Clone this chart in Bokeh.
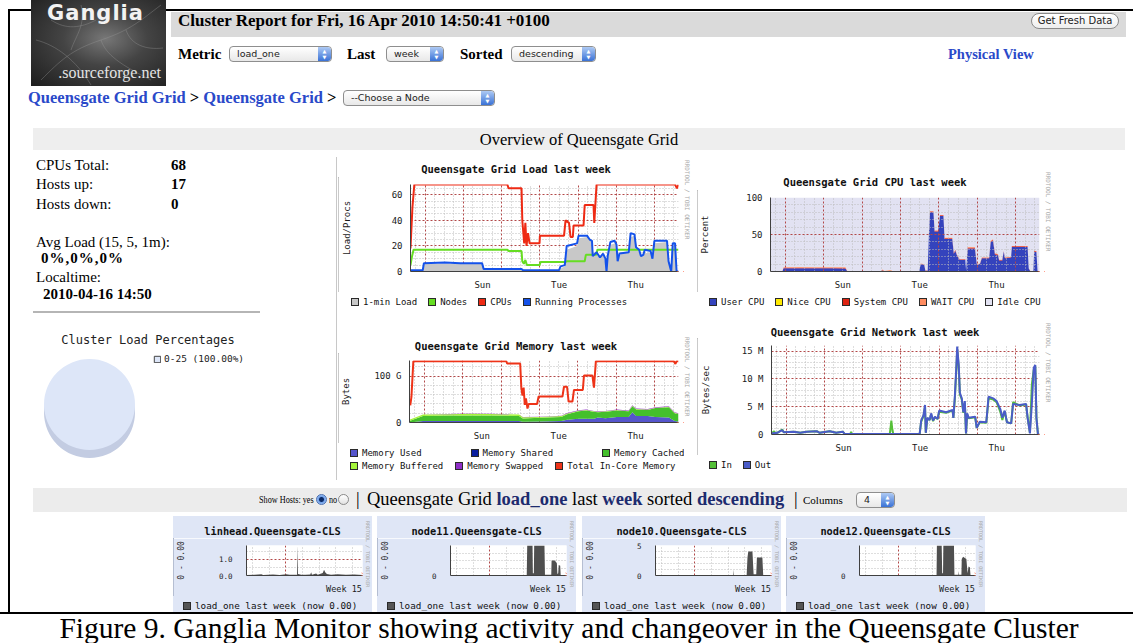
import math
from bokeh.plotting import figure
from bokeh.layouts import row, column
from bokeh.models import (Range1d, FixedTicker, Legend, LegendItem, Div, Spacer, Label,
                          Arrow, OpenHead, ColumnDataSource)
from bokeh.embed import file_html
from bokeh.resources import INLINE

# ===================== DATA =====================
# Time: days since the start of the "last week" window (Fri 9 Apr 2010 14:50)
WINDOW_START = -0.382          # window start in days relative to Sat 10 Apr 00:00
DAY_NAMES = {1.5: "Sun", 3.5: "Tue", 5.5: "Thu"}   # label at noon of the day
WEEK_LABEL = {5.5: "Week 15"}

cluster_stats = [("CPUs Total:", "68"), ("Hosts up:", "17"), ("Hosts down:", "0")]
avg_load = "0%,0%,0%"
localtime = "2010-04-16 14:50"

pie_bins = ["0-25"]
pie_pct = [100.0]

# Load chart
load_t = [0.00, 0.33, 0.36, 1.88, 1.92, 2.90, 2.94, 3.88, 3.95, 4.03, 4.08, 4.35, 4.40, 4.62, 4.72, 4.77,
          4.95, 5.05, 5.10, 5.14, 5.22, 5.36, 5.42, 5.50, 5.70, 5.76, 5.86, 5.92, 6.02, 6.10, 6.28, 6.33,
          6.38, 6.70, 6.75, 6.81, 6.86, 6.92, 6.96, 7.00]
load_one = [0.5, 0.5, 6.0, 6.0, 1.5, 1.5, 0.5, 0.5, 3.0, 4.0, 17, 20, 26, 27, 24, 13,
            12, 13, 4, 10, 21, 22, 9, 14, 15, 27, 28, 18, 12, 14, 15, 10,
            22, 23, 8, 1, 20, 20, 1, 0]
nodes_t = [0.00, 0.04, 0.08, 2.53, 2.56, 2.90, 2.92, 2.96, 3.00, 3.04, 3.37, 3.40, 4.05, 4.08, 4.55,
           4.58, 4.86, 4.88, 7.00]
nodes = [5, 12, 17, 17, 16, 16, 8, 6, 9, 5, 5, 7.5, 7.5, 8, 8, 13, 13, 17, 17]
cpus_t = [0.00, 0.05, 0.10, 2.53, 2.56, 2.90, 2.92, 2.97, 3.00, 3.03, 3.07, 3.11, 3.37, 3.38, 4.01,
          4.05, 4.14, 4.18, 4.24, 4.26, 4.52, 4.55, 4.78, 4.80, 4.86, 6.91, 6.96, 7.00]
cpus = [18, 50, 68, 68, 65, 65, 40, 22, 38, 20, 30, 22, 22, 28, 28,
        40, 38, 27, 27, 36, 36, 52, 52, 38, 68, 68, 65, 68]
procs_t = [0.00, 0.32, 0.35, 0.90, 1.30, 1.87, 1.91, 2.90, 2.94, 3.88, 3.92, 4.03, 4.08, 4.35, 4.39,
           4.61, 4.68, 4.74, 4.76, 4.86, 4.95, 5.03, 5.09, 5.12, 5.15, 5.22, 5.33, 5.38, 5.41, 5.46,
           5.70, 5.75, 5.85, 5.89, 5.97, 6.02, 6.08, 6.12, 6.27, 6.32, 6.37, 6.70, 6.74, 6.81, 6.85,
           6.91, 6.95, 7.00]
procs = [1, 1, 6.5, 7, 6.5, 6.5, 2, 2, 1, 1, 4, 5, 20, 22, 28,
         28, 25, 24, 12, 15, 11, 14, 10, 0, 12, 23, 24, 21, 8, 14,
         15, 30, 29, 19, 17, 12, 13, 17, 16, 10, 24, 24, 8, 0, 22,
         22, 0, 0]

# CPU chart (percent)
cpu_t = [0.00, 0.31, 0.34, 0.75, 1.18, 1.61, 1.95, 2.00, 2.87, 2.91, 2.97, 3.13, 3.18, 3.87, 3.91,
         4.00, 4.03, 4.09, 4.12, 4.15, 4.24, 4.27, 4.36, 4.41, 4.50, 4.53, 4.73, 4.77, 4.81, 4.85,
         4.92, 5.07, 5.09, 5.13, 5.32, 5.37, 5.45, 5.50, 5.69, 5.73, 5.79, 5.84, 5.92, 5.95, 6.03,
         6.07, 6.10, 6.26, 6.28, 6.69, 6.72, 6.76, 6.84, 6.86, 6.92, 6.95, 7.00]
cpu_user = [0.3, 0.3, 4.5, 4.5, 4.3, 4.4, 4.2, 0.3, 0.3, 1.5, 0.3, 0.3, 0.2, 0.2, 10,
            9, 1, 1, 48, 80, 80, 54, 54, 75, 75, 44, 44, 24, 28, 22,
            16, 16, 1, 31, 31, 9, 10, 18, 18, 40, 42, 23, 22, 15, 15,
            27, 18, 19, 33, 33, 4, 0.5, 0.5, 27, 26, 0.3, 0.3]
cpu_system = [0.2, 0.2, 0.6, 0.6, 0.6, 0.6, 0.6, 0.2, 0.2, 0.5, 0.2, 0.2, 0.1, 0.1, 0.5,
              0.5, 0.3, 0.3, 1, 1, 1, 1, 1, 1, 1, 1, 1, 1, 1, 0.5,
              0.5, 0.5, 0.3, 1, 1, 0.5, 0.5, 0.7, 0.7, 1, 1, 1, 1, 0.5, 0.5,
              0.5, 0.5, 0.5, 1, 1, 0.3, 0.1, 0.1, 1, 1, 0.1, 0.1]
cpu_wait = [0.2, 0.2, 0.8, 0.9, 0.9, 0.8, 0.8, 0.2, 0.2, 0.8, 0.2, 1.5, 0.1, 0.1, 0.3,
            0.3, 0.2, 0.2, 0.5, 0.5, 0.5, 0.5, 0.5, 0.5, 0.5, 0.5, 0.5, 0.5, 0.5, 0.3,
            0.3, 0.3, 0.2, 1, 1, 0.3, 0.3, 0.3, 0.3, 0.5, 0.5, 0.5, 0.5, 0.3, 0.3,
            0.3, 0.3, 0.3, 0.5, 0.5, 0.2, 0.1, 0.1, 0.5, 0.5, 0.1, 0.1]

# Memory chart (GB)
mem_total_t = [0.02, 0.05, 0.10, 2.52, 2.54, 2.88, 2.91, 2.94, 2.97, 3.00, 3.03, 3.07, 3.10, 3.32, 3.36,
               3.98, 4.02, 4.10, 4.14, 4.24, 4.28, 4.51, 4.54, 4.76, 4.80, 4.85, 6.88, 6.92, 6.95, 7.00]
mem_total = [37, 55, 132, 132, 127, 127, 75, 58, 75, 38, 52, 30, 40, 40, 56,
             56, 77, 77, 45, 45, 70, 70, 101, 101, 75, 132, 132, 126, 132, 132]
mem_t = [0.00, 0.35, 1.00, 1.60, 2.10, 2.85, 2.95, 3.40, 3.95, 4.10, 4.40, 4.60, 4.80, 4.90, 5.10,
         5.40, 5.70, 5.80, 5.90, 6.20, 6.40, 6.75, 6.90, 7.00]
mem_used = [0, 3, 3, 3, 3, 3, 1.5, 2, 3, 6, 8, 8, 8, 11, 9, 12, 12, 22, 14, 14, 12, 11, 3, 2]
mem_cached = [3, 11, 12, 12, 12, 11, 7, 8, 9, 12, 16, 18, 15, 11, 14, 14, 12, 13, 14, 13, 19, 22, 17, 16]
mem_buffered = [3, 3, 3, 4, 3.5, 3, 3, 2, 2, 1.5, 1.5, 1, 1, 1, 1, 1, 1, 1, 1, 1, 1, 1, 1, 1]
mem_swapped = [0, 0.4, 0.4, 0.4, 0.4, 0.4, 0.4, 0.4, 0.6, 0.8, 1, 1, 1, 1, 1, 1, 1, 1, 1, 1, 1, 1, 1, 1]

# Network chart (MB/s)
net_t = [0.00, 0.15, 0.28, 0.32, 0.58, 0.75, 0.92, 1.18, 1.26, 1.52, 1.69, 1.86, 1.91, 3.87, 3.91,
         3.97, 4.01, 4.03, 4.07, 4.13, 4.17, 4.22, 4.27, 4.34, 4.38, 4.56, 4.73, 4.75, 4.79, 4.83,
         4.85, 4.89, 4.92, 4.97, 5.01, 5.05, 5.08, 5.11, 5.15, 5.32, 5.36, 5.44, 5.61, 5.67, 5.79,
         5.88, 5.98, 6.03, 6.09, 6.15, 6.26, 6.31, 6.48, 6.65, 6.69, 6.75, 6.80, 6.85, 6.89, 6.92,
         6.96, 7.00]
net_out = [0.2, 0.3, 0.8, 0.4, 0.5, 0.3, 0.5, 0.6, 0.3, 0.6, 0.3, 0.5, 0.1, 0.1, 2.5,
           3.5, 5.3, 0.3, 3.0, 2.6, 3.8, 2.5, 3.2, 2.8, 4.3, 4.0, 4.4, 3.0, 7.0, 12.5,
           15.8, 12.5, 7.5, 6.5, 4.0, 6.0, 0.2, 3.8, 3.0, 3.2, 1.2, 2.3, 2.2, 6.8, 6.5,
           6.0, 4.5, 3.0, 4.3, 2.2, 2.0, 5.5, 5.3, 5.5, 3.0, 0.2, 5.5, 12.0, 12.5, 3.0,
           0.0, 0.0]
net_in_t = [0.00, 0.07, 0.10, 0.15, 0.28, 0.32, 0.58, 0.75, 0.92, 1.18, 1.26, 1.52, 1.69, 1.86, 1.91,
            2.06, 2.08, 2.10, 3.09, 3.12, 3.13, 3.15, 3.18, 3.87, 3.91, 3.97, 4.01, 4.03, 4.07, 4.13,
            4.17, 4.22, 4.27, 4.34, 4.38, 4.56, 4.73, 4.75, 4.79, 4.83, 4.85, 4.89, 4.92, 4.97, 5.01,
            5.05, 5.08, 5.11, 5.15, 5.32, 5.36, 5.44, 5.61, 5.67, 5.79, 5.88, 5.98, 6.03, 6.09, 6.15,
            6.26, 6.31, 6.48, 6.65, 6.69, 6.75, 6.80, 6.85, 6.89, 6.92, 6.96, 7.00]
net_in = [0.2, 0.6, 0.2, 0.3, 0.9, 0.4, 0.5, 0.3, 0.5, 0.6, 0.3, 0.6, 0.3, 0.5, 0.1,
          0.1, 0.5, 0.1, 0.1, 1.8, 2.5, 1.2, 0.1, 0.1, 2.3, 3.3, 5.0, 0.3, 2.9, 2.6,
          3.6, 2.4, 3.1, 2.8, 4.1, 3.9, 4.3, 3.0, 6.5, 12.0, 15.2, 12.2, 7.2, 6.3, 3.9,
          5.7, 0.2, 3.6, 2.9, 3.1, 1.2, 2.2, 2.1, 6.5, 6.3, 5.8, 4.0, 2.6, 4.2, 2.2,
          2.0, 5.8, 5.2, 5.4, 3.0, 0.3, 9.0, 11.6, 12.2, 3.0, 0.0, 0.0]

# Host charts (load_one)
host_names = ["linhead.Queensgate-CLS", "node11.Queensgate-CLS", "node10.Queensgate-CLS", "node12.Queensgate-CLS"]
linhead_t = [0.00, 0.50, 0.90, 1.00, 1.60, 2.00, 2.40, 2.60, 3.05, 3.08, 3.11, 3.30, 3.55, 3.85, 3.90,
             3.95, 4.20, 4.30, 4.60, 4.68, 4.75, 4.85, 5.10, 5.50, 6.00, 6.50, 7.00]
linhead = [0.03, 0.05, 0.08, 0.03, 0.06, 0.03, 0.07, 0.04, 0.05, 1.85, 0.10, 0.05, 0.04, 0.06, 0.20,
           0.05, 0.12, 0.05, 0.15, 0.35, 0.20, 0.10, 0.05, 0.08, 0.05, 0.06, 0.03]
node11_t = [0.00, 3.30, 3.35, 4.60, 4.63, 4.95, 4.97, 5.03, 5.05, 5.67, 5.70, 6.08, 6.10, 6.30, 6.42,
            6.45, 6.50, 6.53, 6.62, 6.65, 7.00]
node11 = [0.0, 0.0, 0.05, 0.05, 4.0, 4.0, 0.3, 0.3, 4.0, 4.0, 0.1, 0.1, 2.0, 2.0, 1.6,
          0.2, 0.3, 1.4, 1.3, 0.0, 0.0]
node10_t = [0.00, 4.68, 4.70, 4.72, 5.50, 5.55, 5.60, 5.85, 5.92, 6.08, 6.12, 6.45, 6.50, 7.00]
node10 = [0.0, 0.0, 1.0, 0.0, 0.0, 3.0, 4.0, 4.0, 0.2, 0.2, 3.0, 3.0, 0.0, 0.0]
node12_t = [0.00, 4.65, 4.67, 4.96, 4.99, 5.04, 5.06, 5.70, 5.73, 5.97, 5.99, 6.01, 6.15, 6.17, 6.25,
            6.45, 6.52, 6.58, 6.66, 6.70, 7.00]
node12 = [0.0, 0.0, 4.0, 4.0, 0.3, 0.3, 4.0, 4.0, 0.1, 0.1, 0.6, 0.1, 0.1, 2.2, 2.5,
          2.2, 0.3, 1.2, 1.1, 0.0, 0.0]

# ===================== STYLE =====================
MONO = "DejaVu Sans Mono"
MONO_CSS = "'DejaVu Sans Mono', monospace"
SERIF = "'Liberation Serif', 'Times New Roman', serif"
SANS = "'DejaVu Sans', sans-serif"
LINK = "#2a49c9"
NAVY = "#1d2b6e"
RRD_TXT = "RRDTOOL / TOBI OETIKER"
NAN = float("nan")

X0 = WINDOW_START
X1 = WINDOW_START + 7
DAY_MARKS = [0, 1, 2, 3, 4, 5, 6]
SIX_H = [k / 4 for k in range(-1, 27) if k % 4 != 0]


def tx(ts):
    return [t + WINDOW_START for t in ts]


# ---------- HTML helpers ----------
def T(left, cy, s, size, bold=False, color="#000", family=SERIF, extra=""):
    lh = round(size * 1.25)
    top = cy - lh / 2
    return (f'<div style="position:absolute;left:{left}px;top:{top:.1f}px;white-space:nowrap;'
            f'font-family:{family};font-size:{size}px;font-weight:{"bold" if bold else "normal"};'
            f'line-height:{lh}px;color:{color};{extra}">{s}</div>')


def box(left, top, w, h, bg, extra=""):
    return (f'<div style="position:absolute;left:{left}px;top:{top}px;width:{w}px;height:{h}px;'
            f'background:{bg};{extra}"></div>')


def sel(left, top, width, text, h=16):
    return (f'<div style="position:absolute;left:{left}px;top:{top}px;width:{width}px;height:{h}px;'
            f'box-sizing:border-box;border:1px solid #8e8e8e;border-radius:4px;'
            f'background:linear-gradient(#ffffff,#e8e8e8);font-family:{SANS};font-size:9.5px;color:#222;'
            f'line-height:{h - 2}px;padding-left:7px;white-space:nowrap;overflow:hidden;">{text}'
            f'<div style="position:absolute;right:0;top:0;width:13px;height:{h - 2}px;border-radius:0 3px 3px 0;'
            f'background:linear-gradient(#aecaf4,#3a72d6);color:#fff;font-size:5px;line-height:6px;'
            f'text-align:center;padding-top:1px;box-sizing:border-box;">&#9650;<br>&#9660;</div></div>')


def mkdiv(w, h, inner, bg="transparent"):
    html = f'<div style="position:relative;width:{w}px;height:{h}px;overflow:hidden;background:{bg};">{inner}</div>'
    return Div(text=html, width=w, height=h, margin=0, styles={"overflow": "hidden"})


def legend_html(items, left, cy, gap, size=9):
    parts = "".join(
        f'<div style="display:flex;align-items:center;margin-right:{gap}px;">'
        f'<div style="width:8px;height:8px;box-sizing:border-box;border:1px solid #2a2a2a;'
        f'background:{c};margin-right:4px;"></div><span>{name}</span></div>'
        for name, c in items)
    return (f'<div style="position:absolute;left:{left}px;top:{cy - 7}px;height:14px;display:flex;'
            f'align-items:center;font-family:{MONO_CSS};font-size:{size}px;color:#111;white-space:nowrap;">'
            f'{parts}</div>')


# ---------- figure helpers ----------
def base_fig(w, h, left, right, top, bottom, ymax, frame_bg="white", canvas_bg="white"):
    p = figure(width=w, height=h, x_range=Range1d(X0, X1), y_range=Range1d(0, ymax), title=None,
               output_backend="svg", toolbar_location=None,
               min_border_left=left, min_border_right=right, min_border_top=top, min_border_bottom=bottom,
               background_fill_color=frame_bg, border_fill_color=canvas_bg, outline_line_color=None)
    for ax in (p.xaxis[0], p.yaxis[0]):
        ax.axis_line_color = "#404040"
        ax.major_tick_line_color = None
        ax.minor_tick_line_color = None
        ax.major_label_text_font = MONO
        ax.major_label_text_color = "#1a1a1a"
        ax.major_label_standoff = 2
        ax.axis_label_text_font = MONO
        ax.axis_label_text_font_style = "normal"
        ax.axis_label_text_color = "#1a1a1a"
    return p


def set_grid(p, xmaj, xmin, ymaj, ymin):
    p.xgrid[0].ticker = FixedTicker(ticks=xmaj, minor_ticks=xmin)
    p.ygrid[0].ticker = FixedTicker(ticks=ymaj, minor_ticks=ymin)
    for g in (p.xgrid[0], p.ygrid[0]):
        g.grid_line_color = "#b24848"
        g.grid_line_dash = "2 2"
        g.grid_line_width = 1
        g.minor_grid_line_color = "#bdbdbd"
        g.minor_grid_line_dash = "1 2"


def add_end_arrow(p, length):
    p.add_layout(Arrow(end=OpenHead(size=5, line_color="#ff5533", line_width=1),
                       x_start=X1 - length * 0.3, y_start=0, x_end=X1 + length, y_end=0,
                       line_color="#ff5533", line_width=1))


def week_axis(p, labels, size):
    p.xaxis[0].ticker = FixedTicker(ticks=list(labels.keys()))
    p.xaxis[0].major_label_overrides = labels
    p.xaxis[0].major_label_text_font_size = size


def y_axis(p, ticks, overrides, label, standoff, size="9px", lsize="9px", lstand=2):
    ya = p.yaxis[0]
    ya.ticker = FixedTicker(ticks=ticks)
    if overrides:
        ya.major_label_overrides = overrides
    ya.major_label_text_font_size = size
    ya.major_label_standoff = lstand
    ya.axis_label = label
    ya.axis_label_text_font_size = lsize
    ya.axis_label_standoff = standoff


def graph(W, H, frame_l, frame_t, frame_w, frame_h, right_pad, ymax, title, title_cy, title_size,
          legend_rows, legend_left, rrd_top, rrd_size, bg="white", frame_bg="white", border="#b8b8b8"):
    """RRD style graph image: title strip, plot (bokeh figure), legend strip, vertical RRDTOOL credit."""
    fig_w = frame_l + frame_w + right_pad
    top_pad, bot_pad = 7, 14
    Ht = frame_t - top_pad
    Hf = top_pad + frame_h + bot_pad
    Hl = H - Ht - Hf
    p = base_fig(fig_w, Hf, frame_l, right_pad, top_pad, bot_pad, ymax, frame_bg=frame_bg, canvas_bg=bg)
    title_div = mkdiv(fig_w, Ht, T(0, title_cy, title, title_size, bold=True, color="#111", family=MONO_CSS,
                                   extra=f"width:{W}px;text-align:center;"), bg)
    leg = "".join(legend_html(items, legend_left, cy, gap, size) for items, cy, gap, size in legend_rows)
    legend_div = mkdiv(fig_w, Hl, leg, bg)
    rrd_div = mkdiv(W - fig_w, H,
                    f'<div style="position:absolute;left:0px;top:{rrd_top}px;writing-mode:vertical-rl;'
                    f'font-family:{MONO_CSS};font-size:{rrd_size}px;line-height:{rrd_size + 1}px;'
                    f'color:#a8a8a8;white-space:nowrap;">{RRD_TXT}</div>', bg)
    block = row(column(title_div, p, legend_div), rrd_div,
                styles={"outline": f"1px solid {border}", "outline-offset": "-1px"})
    return p, block


# ===================== LOAD CHART =====================
GREEN = "#66dd22"
RED = "#ee2a14"
BLUE = "#1452ea"
load_fig, load_block = graph(
    356, 161, 67, 29, 273, 94, 6, 68, "Queensgate Grid Load last week", 14, 10.5,
    [([("1-min Load", "#c8c8c8"), ("Nodes", GREEN), ("CPUs", RED), ("Running Processes", BLUE)], 10, 11, 9)],
    13, 5, 6)
set_grid(load_fig, DAY_MARKS, SIX_H, [0, 20, 40, 60], [v for v in range(5, 68, 5) if v % 20])
week_axis(load_fig, DAY_NAMES, "9px")
y_axis(load_fig, [0, 20, 40, 60], None, "Load/Procs", 37)
load_fig.varea(x=tx(load_t), y1=0, y2=load_one, fill_color="#c8c8c8")
load_fig.line(tx(nodes_t), nodes, line_color=GREEN, line_width=2)
load_fig.line(tx(cpus_t), cpus, line_color=RED, line_width=2)
load_fig.line(tx(procs_t), procs, line_color=BLUE, line_width=2)
add_end_arrow(load_fig, 0.14)

# ===================== CPU CHART =====================
cpu_cols = ["#3443bd", "#dd2211", "#ff8c60", "#e2e2f2"]
cpu_fig, cpu_block = graph(
    356, 144, 69, 28, 273, 81, 6, 100, "Queensgate Grid CPU last week", 13, 10.5,
    [([("User CPU", "#3443bd"), ("Nice CPU", "#ffea00"), ("System CPU", "#dd2211"),
       ("WAIT CPU", "#ff8c60"), ("Idle CPU", "#e2e2f2")], 10, 11, 9)],
    12, 3, 6)
cpu_src = ColumnDataSource(dict(
    t=tx(cpu_t), user=cpu_user, system=cpu_system, wait=cpu_wait,
    idle=[100 - u - s - w for u, s, w in zip(cpu_user, cpu_system, cpu_wait)]))
set_grid(cpu_fig, DAY_MARKS, SIX_H, [0, 50, 100], [v for v in range(10, 100, 10) if v != 50])
week_axis(cpu_fig, DAY_NAMES, "9px")
y_axis(cpu_fig, [0, 50, 100], None, "Percent", 33)
cpu_fig.xgrid[0].level = "glyph"
cpu_fig.ygrid[0].level = "glyph"
cpu_areas = cpu_fig.varea_stack(stackers=["user", "system", "wait", "idle"], x="t", color=cpu_cols, source=cpu_src)
cpu_areas[-1].level = "underlay"
add_end_arrow(cpu_fig, 0.14)

# ===================== MEMORY CHART =====================
mem_fig, mem_block = graph(
    356, 146, 67, 28, 273, 69, 6, 133.5, "Queensgate Grid Memory last week", 14, 10.5,
    [([("Memory Used", "#5555cc"), ("Memory Shared", "#0a1fa0"), ("Memory Cached", "#44c02c")], 10, 49, 9),
     ([("Memory Buffered", "#a4f43a"), ("Memory Swapped", "#8f2fc8"), ("Total In-Core Memory", "#ee3318")],
      23, 12, 9)],
    12, 5, 6)
mem_src = ColumnDataSource(dict(t=tx(mem_t), used=mem_used, cached=mem_cached,
                                buffered=mem_buffered, swapped=mem_swapped))
set_grid(mem_fig, DAY_MARKS, SIX_H, [0, 100], [20, 40, 60, 80, 120])
week_axis(mem_fig, DAY_NAMES, "9px")
y_axis(mem_fig, [0, 100], {100: "100 G"}, "Bytes", 20)
mem_fig.varea_stack(stackers=["used", "cached", "buffered", "swapped"], x="t",
                    color=["#5555cc", "#44c02c", "#a4f43a", "#8f2fc8"], source=mem_src)
mem_fig.line(tx(mem_total_t), mem_total, line_color="#ee3318", line_width=2)
add_end_arrow(mem_fig, 0.14)

# ===================== NETWORK CHART =====================
net_fig, net_block = graph(
    356, 156, 69, 25, 273, 96, 6, 16, "Queensgate Grid Network last week", 12, 10.5,
    [([("In", "#55c038"), ("Out", "#4a5cc8")], 10, 11, 9)],
    12, 3, 6)
set_grid(net_fig, DAY_MARKS, SIX_H, [0, 5, 10, 15], [v for v in range(1, 16) if v % 5])
week_axis(net_fig, DAY_NAMES, "9px")
y_axis(net_fig, [0, 5, 10, 15], {5: "5 M", 10: "10 M", 15: "15 M"}, "Bytes/sec", 28)
net_fig.line(tx(net_in_t), net_in, line_color="#55c038", line_width=2)
net_fig.line(tx(net_t), net_out, line_color="#4a5cc8", line_width=2)
add_end_arrow(net_fig, 0.14)


# ===================== HOST CHARTS =====================
def host_chart(name, t, v, ymax, yticks, overrides, yminor, standoff):
    p, blk = graph(199, 96, 66, 29, 123, 37, 3, ymax, name, 15, 10.3,
                   [([("load_one last week (now 0.00)", "#555555")], 10, 8, 9.3)],
                   10, 5, 5, bg="#dfe6f6", border="#a7b1c6")
    set_grid(p, [2], [0, 1, 3, 4, 5, 6], yticks, yminor)
    week_axis(p, WEEK_LABEL, "8.5px")
    y_axis(p, yticks, overrides, "0 - 0.00", standoff, size="7.5px", lsize="8px", lstand=8)
    p.varea(x=tx(t), y1=0, y2=v, fill_color="#4f4f4f")
    add_end_arrow(p, 0.25)
    return blk


h1 = host_chart(host_names[0], linhead_t, linhead, 1.85, [0, 1], {0: "0.0", 1: "1.0"}, [0.5, 1.5], 30)
h2 = host_chart(host_names[1], node11_t, node11, 4.0, [0], None, [1, 2, 3, 4], 39)
h3 = host_chart(host_names[2], node10_t, node10, 5.0, [0, 5], None, [1, 2, 3, 4], 39)
h4 = host_chart(host_names[3], node12_t, node12, 4.0, [0], None, [1, 2, 3, 4], 39)

# ===================== PIE =====================
pie = figure(width=326, height=164, x_range=Range1d(0, 326), y_range=Range1d(0, 164), title=None,
             output_backend="svg", toolbar_location=None, min_border=0, x_axis_type=None, y_axis_type=None,
             outline_line_color=None, background_fill_color="white", border_fill_color="white")
starts, ends, acc = [], [], 0.0
for pct in pie_pct:
    starts.append(acc / 100 * 2 * math.pi)
    acc += pct
    ends.append(acc / 100 * 2 * math.pi)
pie.wedge(x=79, y=70, radius=45.5, start_angle=starts, end_angle=ends, fill_color="#c3cce2", line_color=None)
pie.wedge(x=79, y=78, radius=45.5, start_angle=starts, end_angle=ends, fill_color="#dde6f8", line_color=None)
pie.add_layout(Label(x=137.5, y=143, text="Cluster Load Percentages", text_font=MONO, text_font_size="12px",
                     text_color="#222222", text_align="center", text_baseline="middle"))
pie_items = []
for b, pct in zip(pie_bins, pie_pct):
    r = pie.quad(left=[NAN], right=[NAN], top=[NAN], bottom=[NAN], fill_color="#dde6f8", line_color="#444444")
    pie_items.append(LegendItem(label=f"{b} ({pct:.2f}%)", renderers=[r]))
pie.add_layout(Legend(items=pie_items, location=(143, 118), padding=0, margin=0, glyph_width=8, glyph_height=8,
                      label_standoff=3, label_text_font=MONO, label_text_font_size="9.5px", label_height=8,
                      border_line_color=None, background_fill_alpha=0, label_text_color="#222222"))

# ===================== PAGE PARTS =====================
neurons = ('<svg width="135" height="86" style="position:absolute;left:0;top:0;" fill="none" '
           'stroke="#9a9a9a" stroke-opacity="0.45" stroke-width="0.8">'
           '<path d="M10 80 C30 60 40 50 70 40 S110 20 130 5"/>'
           '<path d="M5 40 C25 45 45 60 60 85"/>'
           '<path d="M70 40 C75 55 90 65 120 80"/>'
           '<path d="M40 50 C45 35 55 25 50 5"/>'
           '<path d="M95 30 C100 45 115 50 132 48"/>'
           '<path d="M20 20 C35 30 50 28 65 20"/></svg>')
logo = (f'<div style="position:absolute;left:31px;top:0px;width:135px;height:86px;overflow:hidden;'
        f'background:radial-gradient(ellipse at 55% 45%, #777 0%, #444 40%, #1d1d1d 100%);">{neurons}'
        f'<div style="position:absolute;left:16px;top:1px;font-family:{SANS};font-weight:bold;font-size:21px;'
        f'line-height:25px;color:#f2f2f2;letter-spacing:1px;">Ganglia</div>'
        f'<div style="position:absolute;right:5px;bottom:1px;font-family:{SERIF};font-size:16px;'
        f'color:#e4e4e4;">.sourceforge.net</div></div>')

header_html = (
    box(8, 9, 1125, 2, "#000") + box(8, 9, 2, 146, "#000") + logo
    + box(171, 12, 955, 25, "#dadada")
    + T(178, 20.5, "Cluster Report for Fri, 16 Apr 2010 14:50:41 +0100", 17, bold=True)
    + (f'<div style="position:absolute;left:1031px;top:13px;width:88px;height:16px;box-sizing:border-box;'
       f'border:1px solid #8a8a8a;border-radius:8px;background:linear-gradient(#ffffff,#eeeeee);'
       f'font-family:{SANS};font-size:10px;line-height:14px;text-align:center;color:#222;">Get Fresh Data</div>')
    + T(178, 54, "Metric", 15, bold=True) + sel(229, 46, 103, "load_one")
    + T(347, 54, "Last", 15, bold=True) + sel(386, 46, 58, "week")
    + T(460, 54, "Sorted", 15, bold=True) + sel(511, 46, 85, "descending")
    + T(948, 54, "Physical View", 14.5, bold=True, color=LINK)
    + T(28, 97, f'<span style="color:{LINK}">Queensgate Grid Grid</span> &gt; '
                f'<span style="color:{LINK}">Queensgate Grid</span> &gt;', 16.5, bold=True)
    + sel(343, 90, 152, "--Choose a Node")
    + box(33, 128, 1092, 22, "#eeeeee")
    + T(33, 139, "Overview of Queensgate Grid", 16.5, extra="width:1092px;text-align:center;")
)
header_div = mkdiv(1133, 155, header_html)

stats_html = ""
for i, (k, v) in enumerate(cluster_stats):
    cy = 10 + i * 19.5
    stats_html += T(26, cy, k, 15) + T(161, cy, v, 15, bold=True)
stats_html += (T(26, 87, "Avg Load (15, 5, 1m):", 15)
               + T(31, 103, avg_load, 15, bold=True, extra="letter-spacing:1px;")
               + T(26, 122, "Localtime:", 15)
               + T(33, 139, localtime, 15, bold=True)
               + box(23, 156, 227, 2, "#b5b5b5"))
stats_div = mkdiv(326, 163, stats_html)


def left_line(h):
    return mkdiv(2, h, box(0, 0, 2, h, "#000"))


sep_div = mkdiv(2, 327, box(0, 2, 1, 323, "#c8c8c8"))

radio_on = (f'<div style="position:absolute;left:316px;top:12px;width:11px;height:11px;box-sizing:border-box;'
            f'border-radius:50%;border:1px solid #4a6fb0;background:radial-gradient(circle, #0b2a66 0 2px, '
            f'#6fa0ea 3px, #c6dcfb 100%);"></div>')
radio_off = (f'<div style="position:absolute;left:338px;top:12px;width:11px;height:11px;box-sizing:border-box;'
             f'border-radius:50%;border:1px solid #8a8a8a;background:linear-gradient(#ffffff,#e2e2e2);"></div>')
squeeze = "transform:scaleX(0.82);transform-origin:0 50%;"
bar_html = (
    box(8, 0, 2, 34, "#000") + box(33, 6, 1094, 24, "#ececec")
    + T(259, 18, "Show Hosts: yes", 10, extra=squeeze) + radio_on + T(329, 18, "no", 10, extra=squeeze)
    + radio_off
    + T(356, 17, "|", 18)
    + T(367, 17, f'Queensgate Grid <b style="color:{NAVY}">load_one</b> last <b style="color:{NAVY}">week</b> '
                 f'sorted <b style="color:{NAVY}">descending</b>', 18.5)
    + T(794, 17, "|", 18) + T(803, 18, "Columns", 11)
    + sel(856, 10, 39, "4")
)
bar_div = mkdiv(1133, 34, bar_html)

caption_html = (box(0, 0, 1133, 2, "#000")
                + T(0, 16, "Figure 9. Ganglia Monitor showing activity and changeover in the Queensgate Cluster",
                    29.5, extra="width:1138px;text-align:center;line-height:30px;top:1px;"))
caption_div = mkdiv(1133, 31, caption_html)


def sp(w, h):
    return Spacer(width=w, height=h, margin=0)


middle = row(
    sp(8, 327),
    left_line(327),
    column(stats_div, pie),
    sep_div,
    column(load_block, sp(356, 16), mem_block, sp(356, 4)),
    sp(3, 327),
    column(sp(356, 14), cpu_block, sp(356, 7), net_block, sp(356, 6)),
    sp(80, 327),
)
hosts_row = row(sp(8, 96), left_line(96), sp(163, 96), h1, sp(5, 96), h2, sp(6, 96), h3, sp(5, 96), h4,
                sp(148, 96))

page = column(header_div, middle, bar_div, hosts_row, caption_div)

open("out.html", "w").write(file_html(page, INLINE, title="Ganglia Cluster Report"))
